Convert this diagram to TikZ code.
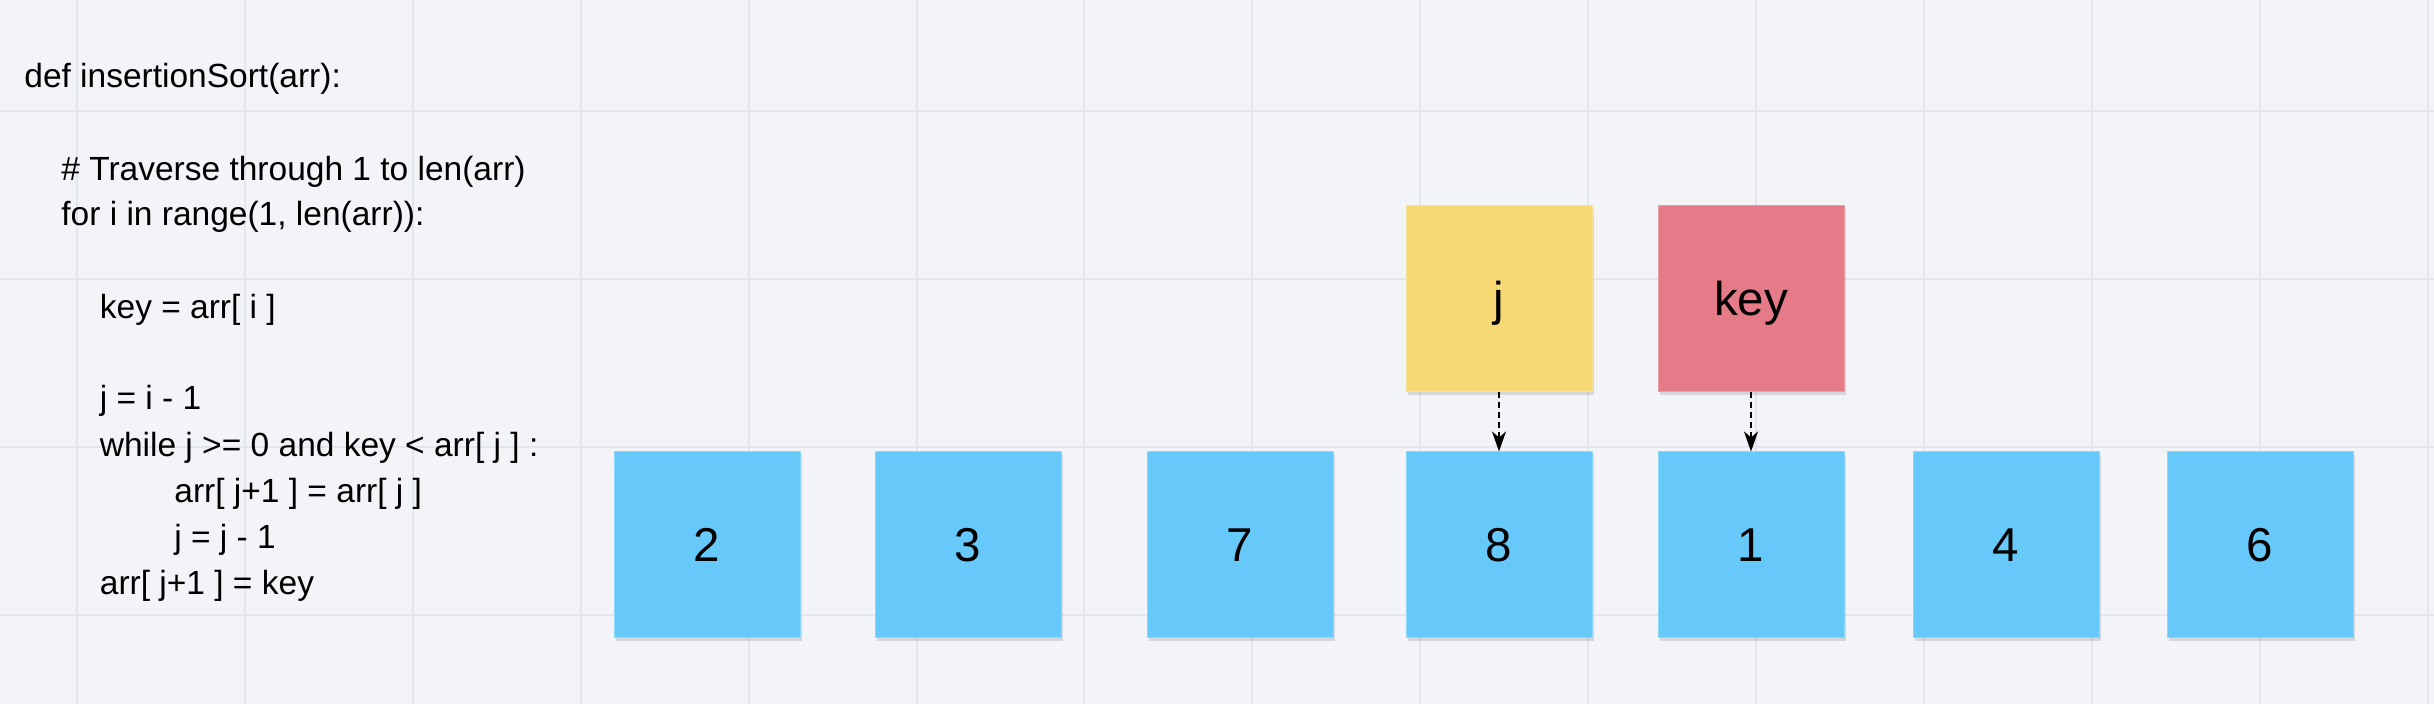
\documentclass[tikz,border=0pt]{standalone}
\usepackage{fontspec}
\setmainfont{Liberation Sans}
\usetikzlibrary{arrows.meta,shadows}
\definecolor{bg}{HTML}{F2F4F8}
\definecolor{gridc}{HTML}{E4E6EE}
\definecolor{cellblue}{HTML}{66C9F9}
\definecolor{cellyellow}{HTML}{F6D975}
\definecolor{cellred}{HTML}{E57A88}
\tikzset{
  cell/.style={minimum width=93pt, minimum height=93pt, inner sep=0pt,
    text height=17pt, text depth=0pt,
    font=\fontsize{23.75}{28}\selectfont, text=black,
    drop shadow={shadow xshift=1.2pt, shadow yshift=-1.6pt, opacity=0.12, fill=black}},
  bluecell/.style={cell, fill=cellblue, draw=cellblue!75!white, line width=0.5pt},
  ycell/.style={cell, fill=cellyellow, draw=cellyellow!75!white, line width=0.5pt},
  rcell/.style={cell, fill=cellred, draw=cellred!75!white, line width=0.5pt},
  code/.style={anchor=base west, inner sep=0pt, font=\fontsize{16.75}{23}\selectfont, text=black},
  ptr/.style={line width=1pt, dash pattern=on 3pt off 2pt,
    -{Stealth[length=10pt,width=7pt,inset=3pt]}},
  gridline/.style={gridc, line width=1pt},
}
\begin{document}
\begin{tikzpicture}[x=0.5pt, y=-0.5pt]
\fill[bg] (0,0) rectangle (2434,704);
\useasboundingbox (0,0) rectangle (2434,704);
% grid
\foreach \i in {0,...,14} \draw[gridline] ({77+167.9*\i},0) -- ({77+167.9*\i},704);
\foreach \y in {111.5,279.3,447,614.8} \draw[gridline] (0,\y) -- (2434,\y);
% code
\node[code] (c1) at (24,87.6) {def insertionSort(arr):};
\node[code] (c2) at (61,180.5) {\# Traverse through 1 to len(arr)};
\node[code] (c3) at (61,226) {for i in range(1, len(arr)):};
\node[code] (c4) at (99.5,318.8) {key = arr[ i ]};
\node[code] (c5) at (99.5,410) {j = i - 1};
\node[code] (c6) at (99.5,457) {while j >= 0 and key < arr[ j ] :};
\node[code] (c7) at (174,503) {arr[ j+1 ] = arr[ j ]};
\node[code] (c8) at (174,549) {j = j - 1};
\node[code] (c9) at (99.5,595) {arr[ j+1 ] = key};
% array cells
\node[bluecell] (b1) at (707,545) {2};
\node[bluecell] (b2) at (968,545) {3};
\node[bluecell] (b3) at (1240,545) {7};
\node[bluecell] (b4) at (1499,545) {8};
\node[bluecell] (b5) at (1751,545) {1};
\node[bluecell] (b6) at (2006,545) {4};
\node[bluecell] (b7) at (2260,545) {6};
% pointers
\node[ycell] (j) at (1499,299) {j};
\node[rcell] (key) at (1751,299) {key};
\draw[ptr] (j.south) -- (b4.north);
\draw[ptr] (key.south) -- (b5.north);
\end{tikzpicture}
\end{document}
